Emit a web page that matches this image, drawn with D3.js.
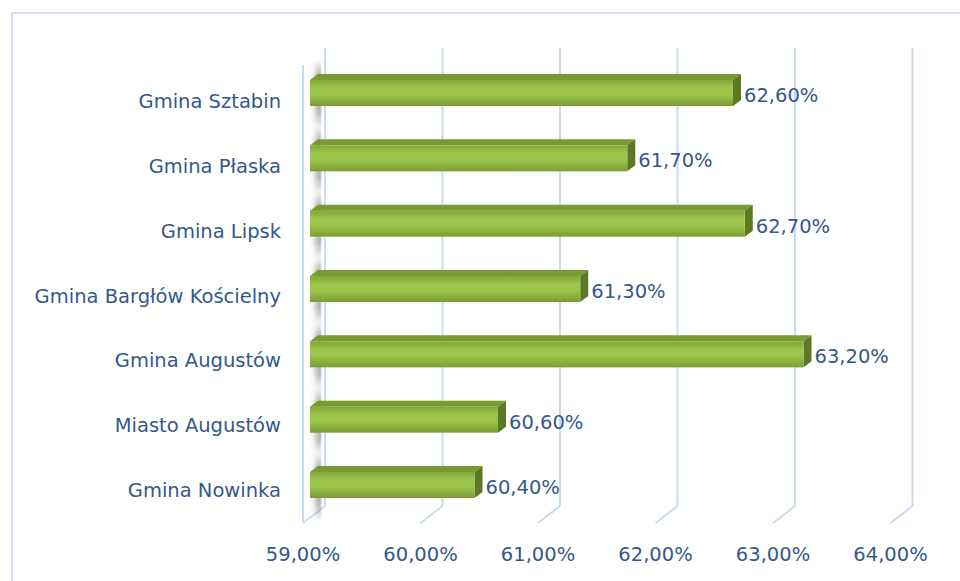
<!DOCTYPE html>
<html><head><meta charset="utf-8">
<script src="https://cdn.jsdelivr.net/npm/d3@7"></script>
<style>
html,body{margin:0;padding:0;background:#fff;}
svg{display:block;}
text{font-family:"DejaVu Sans",sans-serif;fill:#34588c;}
</style></head>
<body>
<svg id="chart" width="960" height="581"></svg>
<script>
const categories = ["Gmina Sztabin","Gmina Płaska","Gmina Lipsk","Gmina Bargłów Kościelny","Gmina Augustów","Miasto Augustów","Gmina Nowinka"];
const values = [62.6, 61.7, 62.7, 61.3, 63.2, 60.6, 60.4];
const valueLabels = ["62,60%","61,70%","62,70%","61,30%","63,20%","60,60%","60,40%"];
const ticks = [59,60,61,62,63,64];
const tickLabels = ["59,00%","60,00%","61,00%","62,00%","63,00%","64,00%"];

const svg = d3.select("#chart");
const defs = svg.append("defs");

const x = d3.scaleLinear().domain([59,64]).range([303, 890.5]);
const depthDx = 22, depthDy = -17;
const floorY = 523, wallTop = 48;
const barOff = 7;
const barDx = 8, barDy = -6;
const barH = 26;
const yC = d3.scalePoint().domain(categories).range([93, 485]);
const yLab = d3.scalePoint().domain(categories).range([108, 497]);
const fs = 19.5;

svg.append("rect").attr("x",12).attr("y",13).attr("width",1000).attr("height",700)
  .attr("fill","none").attr("stroke","#d3e1f3").attr("stroke-width",2);

const grid = "#c9dbf1";
ticks.forEach(t => {
  const xf = x(t), xb = xf + depthDx;
  svg.append("line").attr("x1",xb).attr("x2",xb).attr("y1",wallTop).attr("y2",floorY+depthDy)
    .attr("stroke",grid).attr("stroke-width",2);
  svg.append("line").attr("x1",xb).attr("y1",floorY+depthDy).attr("x2",xf).attr("y2",floorY)
    .attr("stroke",grid).attr("stroke-width",2);
});
svg.append("line").attr("x1",x(59)).attr("x2",x(59)).attr("y1",wallTop-depthDy).attr("y2",floorY)
  .attr("stroke",grid).attr("stroke-width",2);

const gFront = defs.append("linearGradient").attr("id","gFront").attr("x1",0).attr("y1",0).attr("x2",0).attr("y2",1);
[[0,"#84a53a"],[0.3,"#9bc54b"],[0.55,"#9cc64c"],[1,"#7b9b33"]].forEach(s=>gFront.append("stop").attr("offset",s[0]).attr("stop-color",s[1]));
const gShadow = defs.append("linearGradient").attr("id","gShadow").attr("x1",0).attr("y1",0).attr("x2",1).attr("y2",0);
[[0,"#ffffff",0],[0.5,"#a0a0a0",0.85],[0.8,"#787878",0.95],[1,"#ffffff",0]].forEach(s=>gShadow.append("stop").attr("offset",s[0]).attr("stop-color",s[1]).attr("stop-opacity",s[2]));
const gFade = defs.append("linearGradient").attr("id","gFade").attr("x1",0).attr("y1",0).attr("x2",0).attr("y2",1);
[[0,"#fff",0],[0.25,"#fff",1],[0.75,"#fff",0.8],[1,"#fff",0]].forEach(s=>gFade.append("stop").attr("offset",s[0]).attr("stop-color",s[1]).attr("stop-opacity",s[2]));
defs.append("mask").attr("id","mFade").attr("maskContentUnits","objectBoundingBox")
  .append("rect").attr("width",1).attr("height",1).attr("fill","url(#gFade)");

const data = categories.map((c,i)=>({c, v:values[i], lab:valueLabels[i]}));

svg.append("g").selectAll("rect").data(data).join("rect")
  .attr("x", x(59)+6).attr("width", 14)
  .attr("y", d=>yC(d.c)-barH/2-20).attr("height", barH+44)
  .attr("fill","url(#gShadow)").attr("mask","url(#mFade)").attr("opacity",0.75);

const bars = svg.append("g").selectAll("g").data(data).join("g");
const x0 = x(59)+barOff;
bars.append("polygon")
  .attr("points", d=>{
    const t = yC(d.c)-barH/2, xr = x(d.v)+barOff;
    return [[x0,t],[x0+barDx,t+barDy],[xr+barDx,t+barDy],[xr,t]].join(" ");
  }).attr("fill","#789a30");
bars.append("polygon")
  .attr("points", d=>{
    const t = yC(d.c)-barH/2, xr = x(d.v)+barOff;
    return [[xr,t],[xr+barDx,t+barDy],[xr+barDx,t+barDy+barH],[xr,t+barH]].join(" ");
  }).attr("fill","#5d7824");
bars.append("rect")
  .attr("x", x0).attr("y", d=>yC(d.c)-barH/2)
  .attr("width", d=>x(d.v)+barOff-x0).attr("height", barH)
  .attr("fill","url(#gFront)");

bars.append("text")
  .attr("x", d=>x(d.v)+barOff+barDx+3).attr("y", d=>yC(d.c)+9)
  .attr("font-size",fs).text(d=>d.lab);

svg.append("g").selectAll("text").data(categories).join("text")
  .attr("x",281).attr("y",d=>yLab(d)).attr("text-anchor","end")
  .attr("font-size",fs).text(d=>d);

svg.append("g").selectAll("text").data(ticks).join("text")
  .attr("x",d=>x(d)).attr("y",561).attr("text-anchor","middle")
  .attr("font-size",fs).text((d,i)=>tickLabels[i]);
</script>
</body></html>
